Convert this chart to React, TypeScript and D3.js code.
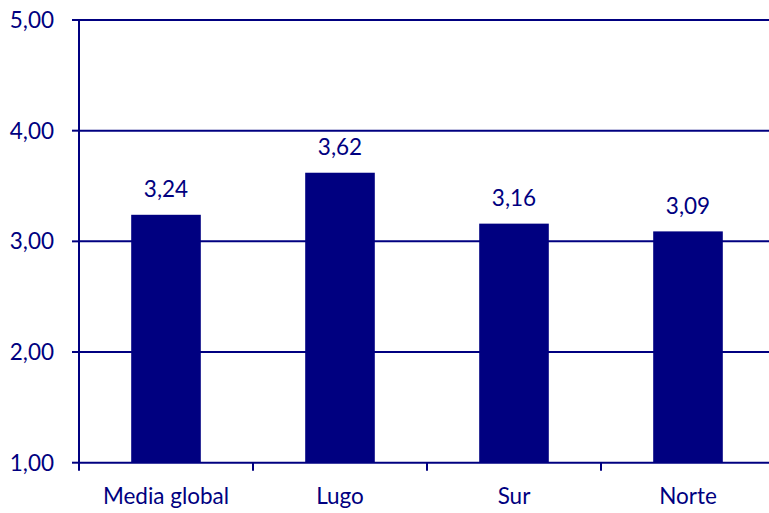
import { useEffect, useRef } from 'react';
import * as d3 from 'd3';

const categories = ['Media global', 'Lugo', 'Sur', 'Norte'];
const values = [3.24, 3.62, 3.16, 3.09];
const yTicks = [1, 2, 3, 4, 5];

const NAVY = '#000080';
const FONT = 'Lato, "Open Sans", sans-serif';
const FONT_SIZE = '22.5px';

export default function App() {
  const svgRef = useRef<SVGSVGElement>(null);

  useEffect(() => {
    if (!svgRef.current) return;
    const svg = d3.select(svgRef.current);
    svg.selectAll('*').remove();

    const left = 79;
    const right = 775;
    const top = 20;
    const bottom = 462.7;

    const x = d3.scaleBand<string>()
      .domain(categories)
      .range([left, right])
      .paddingInner(0.6)
      .paddingOuter(0.3);

    const y = d3.scaleLinear().domain([1, 5]).range([bottom, top]);

    // Gridlines + y ticks
    yTicks.forEach(t => {
      if (t > 1) {
        svg.append('line')
          .attr('x1', left)
          .attr('x2', right)
          .attr('y1', y(t))
          .attr('y2', y(t))
          .attr('stroke', NAVY)
          .attr('stroke-width', 2);
      }
      svg.append('line')
        .attr('x1', left - 7)
        .attr('x2', left)
        .attr('y1', y(t))
        .attr('y2', y(t))
        .attr('stroke', NAVY)
        .attr('stroke-width', 2);
      svg.append('text')
        .attr('x', 54)
        .attr('y', y(t))
        .attr('dy', '0.36em')
        .attr('text-anchor', 'end')
        .attr('fill', NAVY)
        .attr('font-family', FONT)
        .attr('font-size', FONT_SIZE)
        .text(t.toFixed(2).replace('.', ','));
    });

    // Bars
    categories.forEach((c, i) => {
      const v = values[i];
      svg.append('rect')
        .attr('x', x(c)!)
        .attr('y', y(v))
        .attr('width', x.bandwidth())
        .attr('height', bottom - y(v))
        .attr('fill', NAVY);

      svg.append('text')
        .attr('x', x(c)! + x.bandwidth() / 2)
        .attr('y', y(v) - 17.5)
        .attr('text-anchor', 'middle')
        .attr('fill', NAVY)
        .attr('font-family', FONT)
        .attr('font-size', FONT_SIZE)
        .text(v.toFixed(2).replace('.', ','));

      svg.append('text')
        .attr('x', x(c)! + x.bandwidth() / 2)
        .attr('y', 503.5)
        .attr('text-anchor', 'middle')
        .attr('fill', NAVY)
        .attr('font-family', FONT)
        .attr('font-size', FONT_SIZE)
        .text(c);
    });

    // Category boundary ticks
    const step = x.step();
    for (let i = 0; i <= categories.length; i++) {
      const tx = left + i * step;
      svg.append('line')
        .attr('x1', tx)
        .attr('x2', tx)
        .attr('y1', bottom)
        .attr('y2', bottom + 8)
        .attr('stroke', NAVY)
        .attr('stroke-width', 2);
    }

    // Axes
    svg.append('line')
      .attr('x1', left)
      .attr('x2', left)
      .attr('y1', top)
      .attr('y2', bottom)
      .attr('stroke', NAVY)
      .attr('stroke-width', 2);
    svg.append('line')
      .attr('x1', left)
      .attr('x2', right)
      .attr('y1', bottom)
      .attr('y2', bottom)
      .attr('stroke', NAVY)
      .attr('stroke-width', 2);
  }, []);

  return (
    <div style={{ position: 'fixed', top: 0, left: 0, width: 769, height: 513, background: '#fff', overflow: 'hidden' }}>
      <svg ref={svgRef} width={769} height={513} style={{ display: 'block' }} />
    </div>
  );
}
